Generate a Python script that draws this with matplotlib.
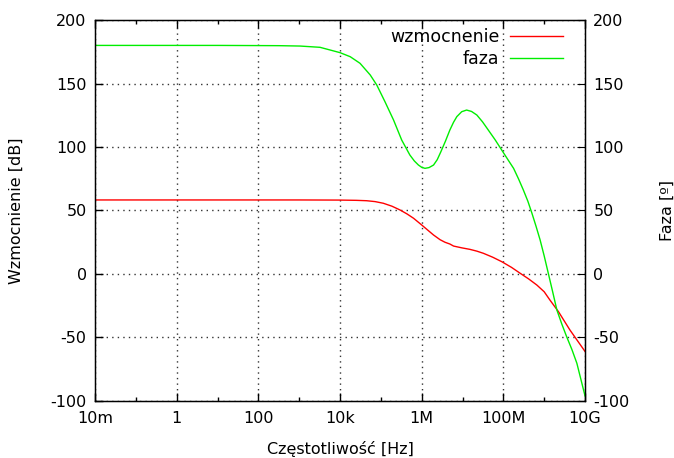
import matplotlib
matplotlib.use("Agg")
import matplotlib.pyplot as plt
import numpy as np
from matplotlib.ticker import FixedLocator, NullFormatter

plt.rcParams["axes.unicode_minus"] = False

# --- data: gain [dB] and phase [deg] vs log10 of frequency [Hz] ---
logf_gain = [-2.0, 1.0, 3.0, 4.0, 4.4, 4.65, 4.86, 5.06, 5.27, 5.47, 5.64,
             5.8, 6.0, 6.15, 6.29, 6.45, 6.57, 6.69, 6.78, 6.98, 7.18, 7.35,
             7.51, 7.74, 7.96, 8.2, 8.41, 8.62, 8.82, 9.0, 9.14, 9.35, 9.63,
             10.0]
gain = [58.3, 58.3, 58.3, 58.2, 58.0, 57.7, 57.0, 55.7, 53.4, 50.4, 47.3,
        43.9, 38.6, 34.5, 30.7, 27.0, 25.0, 23.6, 22.0, 20.6, 19.4, 18.0,
        16.3, 13.2, 9.7, 5.2, 0.6, -3.9, -8.7, -14.0, -20.5, -29.7, -44.1,
        -61.0]

logf_phase = [-2.0, 1.0, 2.5, 3.02, 3.51, 4.0, 4.25, 4.49, 4.74, 4.9, 5.1,
              5.31, 5.51, 5.71, 5.82, 5.92, 6.0, 6.08, 6.18, 6.29, 6.38,
              6.47, 6.58, 6.69, 6.78, 6.86, 6.98, 7.1, 7.22, 7.35, 7.49,
              7.63, 7.8, 7.96, 8.1, 8.25, 8.37, 8.49, 8.6, 8.7, 8.8, 8.9,
              9.0, 9.1, 9.2, 9.31, 9.43, 9.55, 9.68, 9.8, 10.0]
phase = [180.0, 180.0, 179.8, 179.5, 178.5, 174.3, 171.1, 165.9, 156.7,
         148.8, 135.7, 121.3, 105.5, 93.7, 89.0, 85.8, 84.0, 83.2, 83.8,
         85.8, 90.0, 96.3, 104.5, 113.4, 119.5, 123.9, 127.8, 129.1, 128.0,
         125.2, 119.8, 113.4, 105.6, 97.6, 90.6, 83.2, 75.0, 66.1, 57.3,
         47.8, 37.6, 26.8, 14.2, 0.6, -13.0, -28.3, -39.3, -49.4, -59.6,
         -70.3, -96.0]

xticks = [1e-2, 1, 1e2, 1e4, 1e6, 1e8, 1e10]
xlabels = ["10m", "1", "100", "10k", "1M", "100M", "10G"]
xminor = [1e-1, 1e1, 1e3, 1e5, 1e7, 1e9]
yticks = [-100, -50, 0, 50, 100, 150, 200]

freq_gain = 10.0 ** np.array(logf_gain)
freq_phase = 10.0 ** np.array(logf_phase)

# --- figure ---
fig = plt.figure(figsize=(6.74, 4.58), dpi=100)
ax = fig.add_axes([0.141, 0.1245, 0.727, 0.8318])

ax.plot(freq_gain, gain, color="#ff0000", lw=1.0, label="wzmocnenie")
ax.plot(freq_phase, phase, color="#00ee00", lw=1.0, label="faza")

ax.set_xscale("log")
ax.set_xlim(1e-2, 1e10)
ax.set_ylim(-100, 200)
ax.xaxis.set_major_locator(FixedLocator(xticks))
ax.set_xticklabels(xlabels)
ax.xaxis.set_minor_locator(FixedLocator(xminor))
ax.xaxis.set_minor_formatter(NullFormatter())
ax.set_yticks(yticks)

ax.tick_params(which="both", direction="in", top=True, labelsize=11.5,
               color="black")
ax.tick_params(which="major", length=6, width=1)
ax.tick_params(which="minor", length=3, width=1)
ax.tick_params(axis="x", pad=7)
ax.tick_params(axis="y", pad=6)

ax.grid(True, which="major", linestyle=(0, (1, 3)), color="#333333", lw=1.0)

for s in ax.spines.values():
    s.set_linewidth(1.0)

ax.set_xlabel("Częstotliwość [Hz]", fontsize=11.5, labelpad=11)
ax.set_ylabel("Wzmocnienie [dB]", fontsize=11.5, labelpad=19)

# right axis for phase
ax2 = ax.twinx()
ax2.set_ylim(-100, 200)
ax2.set_yticks(yticks)
ax2.tick_params(direction="in", length=6, labelsize=11.5, pad=6)
ax2.set_ylabel("Faza [º]", fontsize=11.5, labelpad=22)

leg = ax.legend(loc="upper right", bbox_to_anchor=(0.955, 0.978),
                frameon=False, markerfirst=False, fontsize=12.5,
                handlelength=3.05, labelspacing=0.2, borderaxespad=0.0,
                borderpad=0.0, handletextpad=0.6)

fig.savefig("out.png", dpi=100)
